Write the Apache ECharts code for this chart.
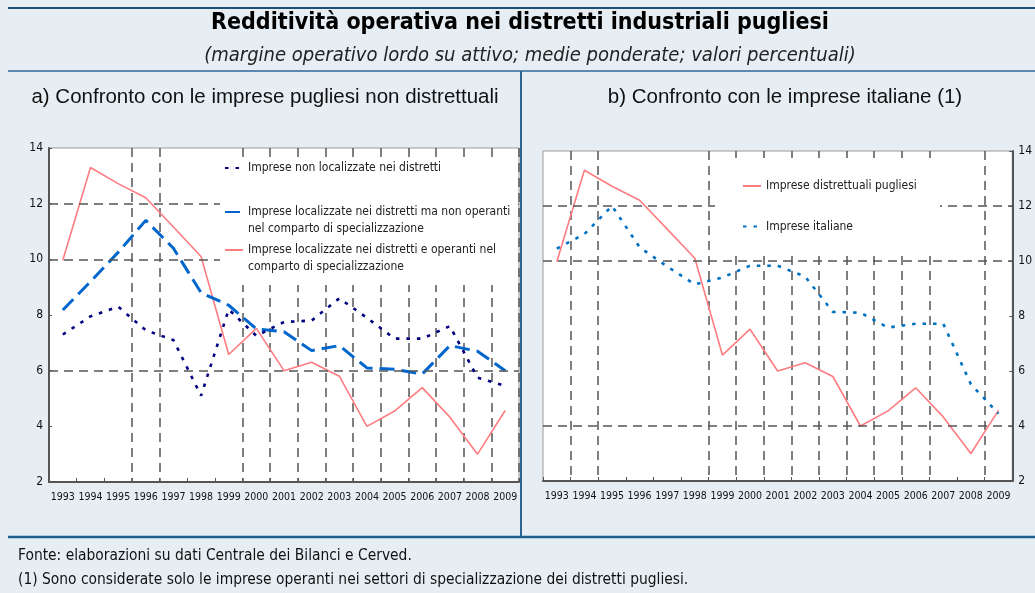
<!DOCTYPE html>
<html>
<head>
<meta charset="utf-8">
<script src="https://cdn.jsdelivr.net/npm/echarts@6/dist/echarts.min.js"></script>
<style>
html,body{margin:0;padding:0;background:#E6EEF4;}
#chart{width:1035px;height:593px;}
</style>
</head>
<body>
<div id="chart"></div>
<script>
// ---- data ----
const years = ['1993','1994','1995','1996','1997','1998','1999','2000','2001','2002','2003','2004','2005','2006','2007','2008','2009'];
const nonDistretti = [7.3, 7.95, 8.3, 7.45, 7.1, 5.1, 8.2, 7.25, 7.75, 7.8, 8.6, 7.9, 7.15, 7.15, 7.6, 5.75, 5.45];
const distrNonSpec = [8.18, 9.2, 10.25, 11.4, 10.4, 8.8, 8.35, 7.5, 7.4, 6.72, 6.9, 6.1, 6.05, 5.88, 6.9, 6.7, 6.0];
const distrSpec = [9.97, 13.3, 12.72, 12.21, 11.16, 10.1, 6.58, 7.52, 6.0, 6.3, 5.8, 4.0, 4.55, 5.39, 4.33, 3.0, 4.57];
const italiane = [10.45, 10.98, 12.0, 10.5, 9.8, 9.15, 9.4, 9.83, 9.83, 9.43, 8.15, 8.12, 7.58, 7.72, 7.72, 5.52, 4.45];
const yMin = 2, yMax = 14, yStep = 2;
const leftHLines = [6, 10, 12];
const rightHLines = [4, 10, 12];
const leftVLines = [3, 4, 7, 8, 9, 10, 11, 12, 13, 14, 15, 16];
const rightVLines = [1, 2, 6, 7, 8, 9, 10, 11, 12, 13, 14, 16];

const nameA1 = 'Imprese non localizzate nei distretti';
const nameA2 = 'Imprese localizzate nei distretti ma non operanti\nnel comparto di specializzazione';
const nameA3 = 'Imprese localizzate nei distretti e operanti nel\ncomparto di specializzazione';
const nameB1 = 'Imprese distrettuali pugliesi';
const nameB2 = 'Imprese italiane';

const NARROW = "'Liberation Sans Narrow','Arial Narrow','DejaVu Sans Condensed',sans-serif";
const SANS = "'Liberation Sans',Arial,sans-serif";
const GRID_DASH = {color:'#555', width:1.5, type:[9,6]};

function mkX(gi, vset){
  return {
    type:'category', gridIndex:gi, data:years, boundaryGap:true,
    axisLine:{lineStyle:{color:'#555', width:2}},
    axisTick:{show:true, inside:true, length:4, lineStyle:{color:'#555'}},
    axisLabel:{fontFamily:NARROW, fontSize:10.5, color:'#111', margin:10, interval:0},
    splitLine:{show:true, interval:function(i){return vset.indexOf(i) >= 0;}, lineStyle:GRID_DASH}
  };
}
function mkY(gi, pos){
  return {
    type:'value', gridIndex:gi, min:yMin, max:yMax, interval:yStep, position:pos,
    axisLine:{show:true, lineStyle:{color:'#555', width:2}},
    axisTick:{show:true, inside:true, length:3, lineStyle:{color:'#555'}},
    axisLabel:{fontFamily:NARROW, fontSize:12, color:'#111', margin:6},
    splitLine:{show:false}
  };
}
function legendItem(name, left, top, twoLines){
  return {
    data:[name], left:left, top:top, orient:'vertical', padding:0, itemGap:0,
    itemWidth:18, itemHeight:10, selectedMode:false, zlevel:2, z:50,
    itemStyle:{opacity:0},
    formatter: twoLines ? function(n){ return '\n' + n; } : undefined,
    textStyle:{fontFamily:NARROW, fontSize:12, color:'#222', lineHeight:17}
  };
}
function gridLineSeries(xi, vals){
  return {
    type:'line', xAxisIndex:xi, yAxisIndex:xi, data:[], z:1, silent:true,
    markLine:{silent:true, symbol:'none', animation:false, label:{show:false},
      lineStyle:GRID_DASH, data: vals.map(v => ({yAxis:v}))}
  };
}
function txt(text, x, y, opts){
  return {type:'text', x:x, y:y, z:10, silent:true,
    style:Object.assign({text:text, fill:'#111', textAlign:'center', textVerticalAlign:'middle'}, opts)};
}

const option = {
  backgroundColor:'#E6EEF4',
  animation:false,
  grid:[
    {left:49, top:148, width:470, height:334, show:true, backgroundColor:'#fff', borderColor:'#999', borderWidth:1},
    {left:543, top:151, width:472, height:330, show:true, backgroundColor:'#fff', borderColor:'#999', borderWidth:1}
  ],
  xAxis:[mkX(0, leftVLines), mkX(1, rightVLines)],
  yAxis:[mkY(0,'left'), mkY(1,'right')],
  legend:[
    legendItem(nameA1, 224, 159.5, false),
    legendItem(nameA2, 224, 186.5, true),
    legendItem(nameA3, 224, 224.5, true),
    legendItem(nameB1, 742, 177.5, false),
    legendItem(nameB2, 742, 218, false)
  ],
  series:[
    gridLineSeries(0, leftHLines),
    gridLineSeries(1, rightHLines),
    {name:nameA3, type:'line', xAxisIndex:0, yAxisIndex:0, data:distrSpec, symbol:'none', z:3,
      lineStyle:{color:'#FF7C80', width:1.6}, itemStyle:{color:'#FF7C80'}},
    {name:nameA2, type:'line', xAxisIndex:0, yAxisIndex:0, data:distrNonSpec, symbol:'none', z:4,
      lineStyle:{color:'#0066CC', width:3, type:[15,7]}, itemStyle:{color:'#0066CC'}},
    {name:nameA1, type:'line', xAxisIndex:0, yAxisIndex:0, data:nonDistretti, symbol:'none', z:5,
      lineStyle:{color:'#000080', width:2.6, type:[3.5,7]}, itemStyle:{color:'#000080'}},
    {name:nameB1, type:'line', xAxisIndex:1, yAxisIndex:1, data:distrSpec, symbol:'none', z:3,
      lineStyle:{color:'#FF7C80', width:1.6}, itemStyle:{color:'#FF7C80'}},
    {name:nameB2, type:'line', xAxisIndex:1, yAxisIndex:1, data:italiane, symbol:'none', z:4,
      lineStyle:{color:'#0070C0', width:2.6, type:[3.5,7]}, itemStyle:{color:'#0070C0'}}
  ],
  graphic:[
    // white legend boxes covering the dashed grid (own layer, legends drawn above)
    {type:'rect', zlevel:1, z:100, silent:true, shape:{x:220, y:157, width:298, height:128}, style:{fill:'#fff'}},
    {type:'rect', zlevel:1, z:100, silent:true, shape:{x:715, y:158, width:225, height:97}, style:{fill:'#fff'}},
    // frame lines
    {type:'line', z:10, silent:true, shape:{x1:8, y1:8, x2:1035, y2:8}, style:{stroke:'#1F5073', lineWidth:2}},
    {type:'line', z:10, silent:true, shape:{x1:8, y1:71, x2:1035, y2:71}, style:{stroke:'#5A88B0', lineWidth:2}},
    {type:'line', z:10, silent:true, shape:{x1:521, y1:71, x2:521, y2:537}, style:{stroke:'#2E6590', lineWidth:2}},
    {type:'line', z:10, silent:true, shape:{x1:8, y1:537, x2:1035, y2:537}, style:{stroke:'#1F5F8B', lineWidth:2.5}},
    // texts
    txt('Redditività operativa nei distretti industriali pugliesi', 520, 23, {fontFamily:NARROW, fontWeight:'bold', fontSize:23, fill:'#000'}),
    txt('(margine operativo lordo su attivo; medie ponderate; valori percentuali)', 530, 56, {fontFamily:NARROW, fontStyle:'italic', fontSize:20, fill:'#222'}),
    txt('a) Confronto con le imprese pugliesi non distrettuali', 265, 97, {fontFamily:SANS, fontSize:20.5, fill:'#111'}),
    txt('b) Confronto con le imprese italiane (1)', 785, 97, {fontFamily:SANS, fontSize:20.5, fill:'#111'}),
    txt('Fonte: elaborazioni su dati Centrale dei Bilanci e Cerved.', 18, 556, {fontFamily:NARROW, fontSize:15.4, fill:'#111', textAlign:'left'}),
    txt('(1) Sono considerate solo le imprese operanti nei settori di specializzazione dei distretti pugliesi.', 18, 580, {fontFamily:NARROW, fontSize:15.4, fill:'#111', textAlign:'left'})
  ]
};

const chart = echarts.init(document.getElementById('chart'), null, {renderer:'canvas'});
chart.setOption(option);
</script>
</body>
</html>
